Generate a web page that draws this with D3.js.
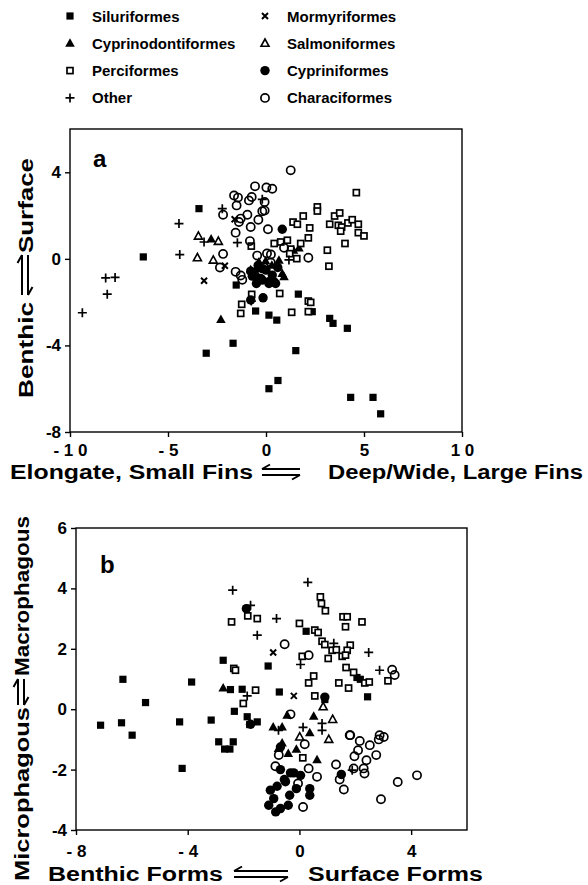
<!DOCTYPE html>
<html>
<head>
<meta charset="utf-8">
<script src="https://cdn.jsdelivr.net/npm/d3@7"></script>
<style>
body { margin: 0; background: #fff; }
text { font-family: "Liberation Sans", Arial, sans-serif; font-weight: bold; fill: #000; }
</style>
</head>
<body>
<div class="chart"></div>
<script>
// legend order, two columns
const orders = ['Siluriformes', 'Cyprinodontiformes', 'Perciformes', 'Other',
                'Mormyriformes', 'Salmoniformes', 'Cypriniformes', 'Characiformes'];

// panel a : body shape axes
const aSiluriformes = [[-3.42,2.32],[-6.26,0.09],[-1.52,-1.21],[1.65,-1.63],[-0.53,-2.41],[0.15,-2.6],[0.55,-2.83],[2.36,-2.44],[3.25,-2.75],[3.42,-2.98],[4.15,-3.21],[-1.68,-3.9],[-3.05,-4.36],[1.52,-4.24],[0.61,-5.62],[0.15,-6.0],[4.32,-6.4],[5.46,-6.4],[5.85,-7.16]];
const aCyprinodontiformes = [[-2.8,0.92],[-2.3,-2.8],[-0.78,-0.5],[-0.36,-0.14],[-0.02,-0.1],[0.66,-0.06],[0.83,-0.68],[0.92,-0.83],[1.68,0.5],[1.4,0.4],[-0.5,-0.45],[0.3,-0.3]];
const aPerciformes = [[4.61,3.06],[2.62,2.4],[2.62,2.21],[1.9,1.98],[1.38,1.7],[1.6,1.6],[2.23,1.43],[3.5,1.98],[3.76,2.12],[3.25,1.6],[3.69,1.55],[3.86,1.47],[3.81,1.28],[4.18,1.66],[4.4,1.81],[4.71,1.6],[4.71,1.21],[5.0,1.06],[4.03,0.71],[2.16,0.97],[3.13,0.4],[3.21,-0.34],[0.42,0.71],[0.75,0.78],[1.09,0.86],[1.26,0.45],[1.77,0.71],[1.21,0.24],[1.57,0.01],[-0.75,0.59],[-0.73,-1.64],[-1.24,-2.1],[-1.29,-2.52],[0.7,-1.6],[1.31,-2.47],[2.16,-1.95],[2.28,-2.01],[2.16,-2.44]];
const aOther = [[-9.37,-2.49],[-8.18,-0.88],[-7.7,-0.86],[-8.1,-1.63],[-4.44,1.63],[-4.4,0.2],[-3.16,0.78],[-2.23,2.32],[-1.46,0.75],[-0.19,2.75],[1.17,-0.05],[-0.75,-1.95]];
const aMormyriformes = [[-3.16,-1.01],[-2.1,-0.32],[-1.6,1.83]];
const aSalmoniformes = [[-3.45,1.05],[-3.5,0.05],[-2.69,-0.06],[-2.43,0.81]];
const aCypriniformes = [[0.83,1.37],[-0.78,-0.57],[-0.56,-0.75],[-0.19,-0.98],[0.15,-1.06],[0.41,-1.06],[-0.49,-1.14],[0.15,-1.14],[0.49,-1.14],[-0.19,-0.45],[0.32,-0.75],[0.0,-0.52],[-0.7,-0.8],[-0.27,-0.91],[-0.15,-1.8],[-0.78,-1.9],[0.6,-0.4],[-0.4,-0.3]];
const aCharaciformes = [[1.26,4.09],[-0.56,3.35],[0.02,3.30],[0.32,3.24],[-1.63,2.93],[-1.43,2.83],[-0.73,2.86],[-0.87,2.70],[-1.50,2.47],[-0.07,2.63],[-0.07,2.23],[-0.19,2.20],[-2.19,2.04],[-0.95,2.04],[-1.29,1.86],[-1.38,1.70],[-0.39,1.81],[-0.78,1.47],[0.10,1.37],[-1.55,1.21],[-0.82,0.82],[-2.19,0.23],[-2.35,-0.40],[0.92,0.51],[2.16,0.05],[-0.45,0.15],[0.05,0.25],[0.25,0.2],[-1.55,-0.6],[-1.29,-0.77],[-1.21,-0.97],[0.24,-0.17]];

// panel b : feeding axes
const bSiluriformes = [[-2.73,1.62],[-1.12,1.43],[-6.32,0.99],[-3.86,0.9],[-2.47,0.65],[-2.05,0.66],[-0.72,0.57],[-5.51,0.22],[-2.33,-0.07],[0.24,2.58],[2.06,1.05],[2.18,0.99],[2.44,0.41],[0.91,0.32],[-7.12,-0.53],[-6.37,-0.45],[-5.99,-0.86],[-4.29,-0.42],[-3.16,-0.36],[-4.2,-1.96],[-2.89,-1.08],[-2.68,-1.32],[-2.49,-1.32],[-2.37,-1.08],[-1.87,-0.25],[-1.51,-0.42],[-1.78,-0.51]];
const bCyprinodontiformes = [[-2.73,0.7],[-0.44,-0.2],[0.51,-0.23],[-0.94,-0.59],[-0.62,-0.59],[0.37,-0.78],[-0.62,-1.12],[-0.4,-1.47],[-0.11,-1.33],[0.63,-1.67],[-0.75,-1.3]];
const bPerciformes = [[-2.43,2.89],[-1.85,3.09],[-1.51,3.0],[-2.35,1.35],[-2.29,1.29],[-1.57,0.63],[-2.01,0.19],[0.75,3.72],[0.79,3.5],[0.93,3.26],[1.56,3.06],[1.71,3.06],[1.65,2.73],[2.24,2.89],[0,2.84],[0.55,2.62],[0.67,2.54],[0.81,2.25],[0.91,2.14],[1.17,1.95],[1.32,1.97],[1.82,2.12],[1.71,1.95],[1.03,1.68],[1.53,1.75],[1.65,1.79],[0.1,1.75],[1.67,1.38],[1.94,1.22],[2.34,0.87],[2.5,0.9],[3.17,0.94],[0.51,1.1],[0.33,0.87],[1.41,0.87],[1.76,0.7],[0.55,0.44],[0.12,-1.61]];
const bOther = [[-2.39,3.94],[-1.75,3.44],[0.3,4.2],[-0.82,3.0],[-1.51,2.45],[1.23,2.18],[2.48,1.88],[0.04,1.48],[2.87,1.29],[-1.87,0.44],[0.81,-0.47],[0.81,-0.7],[-0.75,-0.7],[1.89,-2.02],[0.13,-0.6]];
const bMormyriformes = [[-0.94,1.88],[-0.2,0.44]];
const bSalmoniformes = [[0.85,0.08],[1.19,-0.34],[0.01,-0.92],[1.05,-1.0]];
const bCypriniformes = [[-1.9,3.33],[0.91,0.4],[-1.75,-0.5],[-0.68,-1.25],[-0.68,-2.0],[-0.32,-2.11],[-0.2,-2.11],[0.04,-2.19],[-0.54,-2.33],[-0.11,-2.63],[0.37,-2.63],[0.37,-2.85],[-1.04,-2.68],[-0.8,-2.55],[-0.92,-2.96],[-1.1,-3.18],[-0.68,-3.29],[-0.4,-3.18],[-0.35,-2.85],[1.5,-2.16],[-0.85,-3.4],[-0.5,-2.4]];
const bCharaciformes = [[-0.53,2.15],[0.33,1.79],[3.32,1.31],[3.41,1.13],[-0.32,-0.17],[1.82,-0.86],[2.87,-0.86],[0.19,-1.16],[-0.74,-1.52],[-0.86,-1.89],[0.33,-1.96],[0.63,-2.24],[-0.05,-2.46],[0.13,-3.24],[1.31,-1.83],[1.44,-2.33],[1.59,-2.66],[1.8,-0.86],[2.16,-1.05],[2.1,-1.36],[1.97,-1.56],[1.94,-1.96],[2.52,-1.19],[2.4,-1.69],[2.3,-1.96],[2.33,-2.13],[2.75,-1.52],[2.84,-1.0],[3.02,-0.92],[2.92,-2.98],[3.52,-2.41],[4.21,-2.19]];

// ticks
const aXTicks = [-10, -5, 0, 5, 10];
const aXLabels = ['- 1 0', '- 5', '0', '5', '1 0'];
const aYTicks = [4, 0, -4, -8];
const bXTicks = [-8, -4, 0, 4];
const bXLabels = ['- 8', '- 4', '0', '4'];
const bYTicks = [6, 4, 2, 0, -2, -4];

const aSeries = [aSiluriformes, aCyprinodontiformes, aPerciformes, aOther, aMormyriformes, aSalmoniformes, aCypriniformes, aCharaciformes];
const bSeries = [bSiluriformes, bCyprinodontiformes, bPerciformes, bOther, bMormyriformes, bSalmoniformes, bCypriniformes, bCharaciformes];

const width = 588, height = 885;
const svg = d3.select('.chart').append('svg')
    .attr('width', width)
    .attr('height', height);

// one marker shape per order
function mark(g, name, x, y) {
    if (name == 'Siluriformes') {
        g.append('rect').attr('x', x - 3.6).attr('y', y - 3.6).attr('width', 7.2).attr('height', 7.2).attr('fill', '#000');
    } else if (name == 'Perciformes') {
        g.append('rect').attr('x', x - 3).attr('y', y - 3).attr('width', 6).attr('height', 6)
            .attr('fill', '#fff').attr('stroke', '#000').attr('stroke-width', 1.7);
    } else if (name == 'Cypriniformes') {
        g.append('circle').attr('cx', x).attr('cy', y).attr('r', 4.7).attr('fill', '#000');
    } else if (name == 'Characiformes') {
        g.append('circle').attr('cx', x).attr('cy', y).attr('r', 4.1).attr('fill', 'none')
            .attr('stroke', '#000').attr('stroke-width', 1.7);
    } else if (name == 'Cyprinodontiformes') {
        g.append('path').attr('d', `M${x},${y - 5}L${x + 4.8},${y + 3.5}L${x - 4.8},${y + 3.5}Z`).attr('fill', '#000');
    } else if (name == 'Salmoniformes') {
        g.append('path').attr('d', `M${x},${y - 4.3}L${x + 4},${y + 3}L${x - 4},${y + 3}Z`)
            .attr('fill', '#fff').attr('stroke', '#000').attr('stroke-width', 1.6);
    } else if (name == 'Other') {
        g.append('path').attr('d', `M${x - 4.5},${y}H${x + 4.5}M${x},${y - 4.5}V${y + 4.5}`)
            .attr('stroke', '#000').attr('stroke-width', 1.7);
    } else if (name == 'Mormyriformes') {
        g.append('path').attr('d', `M${x - 3},${y - 3}L${x + 3},${y + 3}M${x + 3},${y - 3}L${x - 3},${y + 3}`)
            .attr('stroke', '#000').attr('stroke-width', 2);
    }
}

// legend
orders.forEach((name, i) => {
    const col = Math.floor(i / 4), row = i % 4;
    const lx = col ? 265 : 70, ly = 16 + row * 27.3;
    mark(svg, name, lx, ly);
    svg.append('text').attr('x', lx + 22).attr('y', ly + 5.5)
        .attr('font-size', 15).text(name);
});

// pair of opposed half-arrows, horizontal (top one points left)
function harrows(cx, cy, len) {
    const h = len / 2;
    svg.append('path')
        .attr('d', `M${cx - h},${cy - 3}H${cx + h}M${cx - h},${cy - 3}l8,-4.5M${cx - h},${cy + 3}H${cx + h}M${cx + h},${cy + 3}l-8,4.5`)
        .attr('stroke', '#000').attr('stroke-width', 2).attr('fill', 'none');
}
// vertical pair: left one points up, right one points down
function varrows(cx, cy, len) {
    const h = len / 2;
    svg.append('path')
        .attr('d', `M${cx - 3},${cy + h}V${cy - h}M${cx - 3},${cy - h}l-4.5,8M${cx + 3},${cy - h}V${cy + h}M${cx + 3},${cy + h}l4.5,-8`)
        .attr('stroke', '#000').attr('stroke-width', 2).attr('fill', 'none');
}

function label(x, y, txt, len, rotate) {
    svg.append('text')
        .attr('transform', `translate(${x},${y})` + (rotate ? ' rotate(-90)' : ''))
        .attr('font-size', 20)
        .attr('textLength', len).attr('lengthAdjust', 'spacingAndGlyphs')
        .text(txt);
}

function panel(series, xDom, xRange, yDom, yRange, xTicks, xLabels, yTicks, xPad, tag, tagPos) {
    const x = d3.scaleLinear().domain(xDom).range(xRange);
    const y = d3.scaleLinear().domain(yDom).range(yRange);
    const g = svg.append('g');

    g.append('rect')
        .attr('x', xRange[0]).attr('y', yRange[1])
        .attr('width', xRange[1] - xRange[0]).attr('height', yRange[0] - yRange[1])
        .attr('fill', 'none').attr('stroke', '#000').attr('stroke-width', 1.4);

    const xAxis = g.append('g').attr('transform', `translate(0,${yRange[0]})`)
        .call(d3.axisBottom(x).tickValues(xTicks).tickSize(5).tickPadding(xPad)
            .tickFormat((d, i) => xLabels[i]));
    const yAxis = g.append('g').attr('transform', `translate(${xRange[0]},0)`)
        .call(d3.axisLeft(y).tickValues(yTicks).tickSize(5).tickPadding(4)
            .tickFormat(d => d));
    [xAxis, yAxis].forEach(ax => {
        ax.select('.domain').remove();
        ax.selectAll('line').attr('stroke', '#000').attr('stroke-width', 1.4);
        ax.selectAll('text').attr('font-size', 17).attr('fill', '#000')
            .attr('font-family', '"Liberation Sans", Arial, sans-serif').attr('font-weight', 'bold');
    });

    g.append('text').attr('x', tagPos[0]).attr('y', tagPos[1]).attr('font-size', 24)
        .attr('font-family', '"DejaVu Sans", sans-serif').text(tag);

    series.forEach((pts, i) => {
        pts.forEach(p => mark(g, orders[i], x(p[0]), y(p[1])));
    });
}

panel(aSeries, [-10, 10], [70, 462], [-8, 6], [432, 129], aXTicks, aXLabels, aYTicks, 7, 'a', [93, 167]);
panel(bSeries, [-8, 6], [76, 467], [-4, 6], [830, 528], bXTicks, bXLabels, bYTicks, 10, 'b', [100, 573]);

// axis titles, panel a
label(10, 479, 'Elongate, Small Fins', 243);
harrows(281, 472, 38);
label(328, 479, 'Deep/Wide, Large Fins', 255);

label(33, 398, 'Benthic', 96, true);
varrows(25, 275, 40);
label(33, 253, 'Surface', 95, true);

// axis titles, panel b
label(48, 881, 'Benthic Forms', 175);
harrows(261, 874, 54);
label(308, 881, 'Surface Forms', 175);

label(29, 881, 'Microphagous', 174, true);
varrows(21, 692, 26);
label(29, 676, 'Macrophagous', 160, true);
</script>
</body>
</html>
